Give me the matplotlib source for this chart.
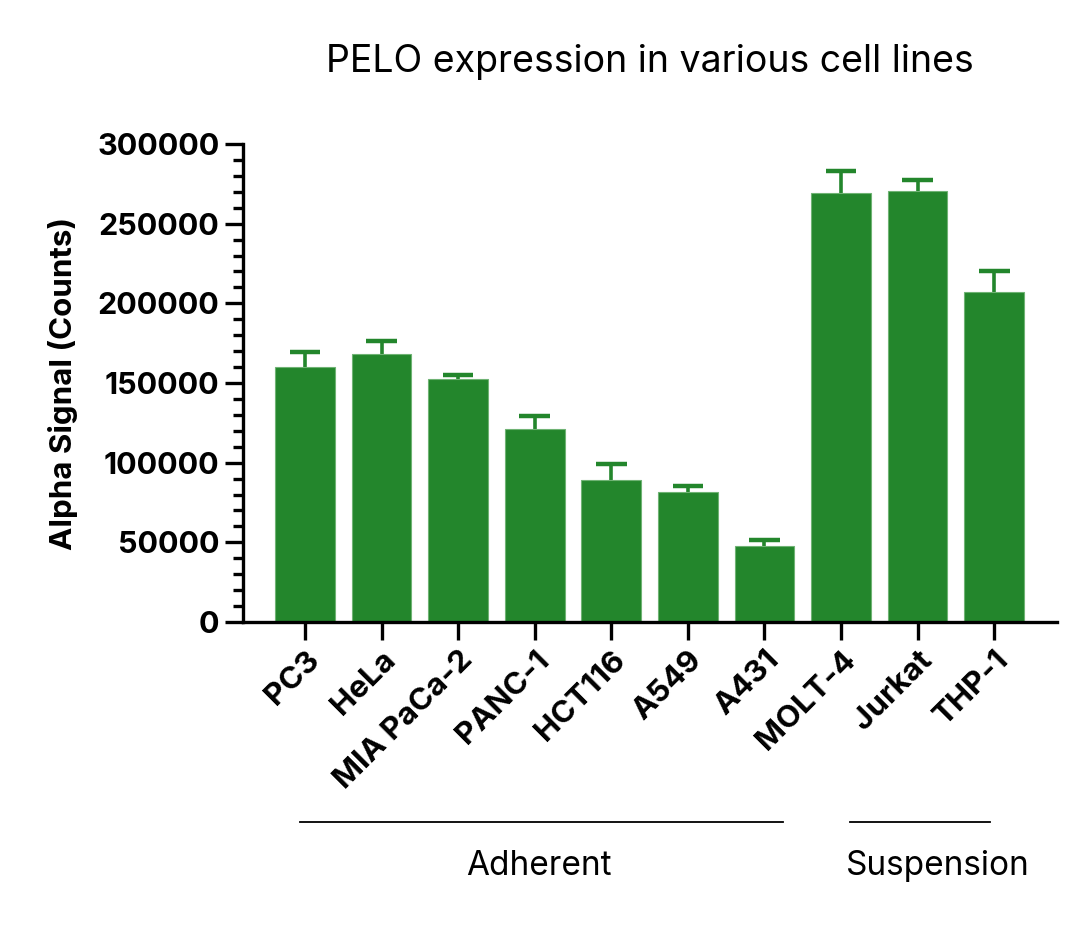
import numpy as np
import matplotlib.pyplot as plt
from matplotlib.transforms import blended_transform_factory

# values
cell_lines = ["PC3", "HeLa", "MIA PaCa-2", "PANC-1", "HCT116", "A549", "A431",
              "MOLT-4", "Jurkat", "THP-1"]
signal = [160000, 168500, 152300, 121000, 89200, 81600, 47700, 269400, 270500, 207000]
err = [9500, 7800, 2500, 8200, 10000, 3800, 3800, 13600, 6700, 13600]

groups = ["Adherent", "Suspension"]

green = "#23862c"

plt.rcParams['font.family'] = ['Inter', 'DejaVu Sans']

fig = plt.figure(figsize=(10.8, 9.26), dpi=100)
ax = fig.add_axes([0.225, 0.3283, 0.7537, 0.5162])

x = np.arange(len(cell_lines))
sig = np.array(signal)
top = sig + np.array(err)
ax.bar(x, sig, width=0.78, color=green, edgecolor="#6fb374", linewidth=0.8, zorder=2)
# upper-only error bars
ax.vlines(x, sig, top, color=green, lw=2.6, zorder=1)
ax.hlines(top, x - 0.2, x + 0.2, color=green, lw=3.2, zorder=1)

ax.set_xlim(-0.81, 9.82)
ax.set_ylim(0, 300000)
ax.set_yticks(np.arange(0, 300001, 50000))
ax.set_yticks(np.arange(0, 300001, 10000), minor=True)
ax.set_xticks(x)
ax.set_xticklabels(cell_lines, rotation=45, ha="right", rotation_mode="anchor",
                   fontsize=22.5, fontweight="bold")
for lab in ax.get_yticklabels():
    lab.set_fontsize(22)
    lab.set_fontweight("bold")

ax.spines["top"].set_visible(False)
ax.spines["right"].set_visible(False)
ax.spines["left"].set_linewidth(2.4)
ax.spines["bottom"].set_linewidth(2.4)
ax.tick_params(axis="both", which="major", length=13, width=2.4, pad=4)
ax.tick_params(axis="y", which="minor", length=7, width=2.4)
ax.tick_params(axis="x", which="major", pad=4)

ax.set_ylabel("Alpha Signal (Counts)", fontsize=22.5, fontweight="bold", labelpad=14)
fig.text(0.602, 0.933, "PELO expression in various cell lines", fontsize=27,
         ha="center", va="center")

# group brackets under the tick labels
tr = blended_transform_factory(ax.transData, fig.transFigure)
line_x = [(-0.07, 6.24), (7.12, 8.95)]
label_x = [3.05, 8.26]
for g, (x0, x1), lx in zip(groups, line_x, label_x):
    ax.plot([x0, x1], [1 - 822 / 926] * 2, color="black", lw=1.3, transform=tr,
            clip_on=False)
    ax.text(lx, 1 - 866 / 926, g, transform=tr, ha="center", va="center", fontsize=24)

fig.savefig("out.png", dpi=100)
